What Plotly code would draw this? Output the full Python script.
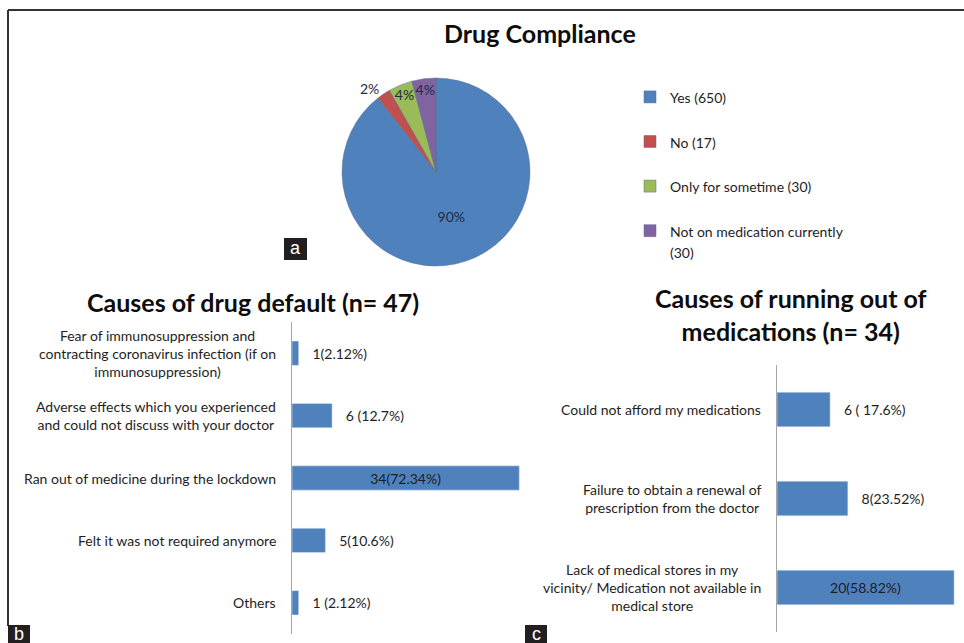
import plotly.graph_objects as go

W, H = 964, 643

# ---------------- data ----------------
# Panel a: Drug Compliance
pie_labels = ["Yes (650)", "No (17)", "Only for sometime (30)", "Not on medication currently<br>(30)"]
pie_counts = [650, 17, 30, 30]
pie_text = ["90%", "2%", "4%", "4%"]
pie_colors = ["#4F81BD", "#C0504D", "#9BBB59", "#8064A2"]

# Panel b: Causes of drug default (n= 47)
b_categories = [
    "Fear of immunosuppression and<br>contracting coronavirus infection (if on<br>immunosuppression)",
    "Adverse effects which you experienced<br>and could not discuss with your doctor",
    "Ran out of medicine during the lockdown",
    "Felt it was not required anymore",
    "Others",
]
b_counts = [1, 6, 34, 5, 1]
b_text = ["1(2.12%)", "6 (12.7%)", "34(72.34%)", "5(10.6%)", "1 (2.12%)"]

# Panel c: Causes of running out of medications (n= 34)
c_categories = [
    "Could not afford my medications",
    "Failure to obtain a renewal of<br>prescription from the doctor",
    "Lack of medical stores in my<br>vicinity/ Medication not available in<br>medical store",
]
c_counts = [6, 8, 20]
c_text = ["6 ( 17.6%)", "8(23.52%)", "20(58.82%)"]

# ---------------- helpers ----------------
FONT = "Lato"
TXT = "#1e1e1e"
BAR = "#4F81BD"
FS = 14


def X(px):
    return px / W


def Y(py):
    return 1 - py / H


def legend_label(s):
    parts = s.split("<br>")
    out = "<br>".join("<span style='font-size:14px'>%s</span>" % p for p in parts)
    if len(parts) == 1:
        out += "<br>\u00a0"
    return out


def bar_labels(texts, counts):
    mx = max(counts)
    pos, disp = [], []
    for t, c in zip(texts, counts):
        if c == mx:
            pos.append("inside")
            disp.append(t)
        else:
            pos.append("outside")
            disp.append("\u00a0\u00a0\u00a0" + t)
    return pos, disp


fig = go.Figure()

# Pie
fig.add_trace(go.Pie(
    labels=[legend_label(l) for l in pie_labels],
    values=pie_counts,
    text=pie_text,
    textinfo="text",
    textposition=["inside", "outside", "inside", "inside"],
    insidetextorientation="horizontal",
    textfont=dict(family=FONT, size=FS, color="#1f2a44"),
    marker=dict(colors=pie_colors, line=dict(color="#5a6f8f", width=0.5)),
    sort=False,
    direction="clockwise",
    rotation=0,
    domain=dict(x=[X(342), X(530)], y=[Y(266), Y(78)]),
    hoverinfo="skip",
))

# Bars b
b_pos, b_disp = bar_labels(b_text, b_counts)
fig.add_trace(go.Bar(
    y=b_categories, x=b_counts, orientation="h",
    text=b_disp, textposition=b_pos, insidetextanchor="middle",
    textfont=dict(family=FONT, size=FS, color=TXT),
    insidetextfont=dict(family=FONT, size=FS, color=TXT),
    outsidetextfont=dict(family=FONT, size=FS, color=TXT),
    marker=dict(color=BAR), cliponaxis=False, constraintext="none",
    xaxis="x", yaxis="y", showlegend=False, hoverinfo="skip",
))

# Bars c
c_pos, c_disp = bar_labels(c_text, c_counts)
fig.add_trace(go.Bar(
    y=c_categories, x=c_counts, orientation="h",
    text=c_disp, textposition=c_pos, insidetextanchor="middle",
    textfont=dict(family=FONT, size=FS, color=TXT),
    insidetextfont=dict(family=FONT, size=FS, color=TXT),
    outsidetextfont=dict(family=FONT, size=FS, color=TXT),
    marker=dict(color=BAR), cliponaxis=False, constraintext="none",
    xaxis="x2", yaxis="y2", showlegend=False, hoverinfo="skip",
))

annotations = []
# category labels
for cat in b_categories:
    annotations.append(dict(text=cat, xref="x domain", yref="y", x=0, y=cat,
                            xanchor="right", yanchor="middle", xshift=-14, align="center",
                            showarrow=False, font=dict(family=FONT, size=FS, color=TXT)))
for cat in c_categories:
    annotations.append(dict(text=cat, xref="x2 domain", yref="y2", x=0, y=cat,
                            xanchor="right", yanchor="middle", xshift=-14, align="center",
                            showarrow=False, font=dict(family=FONT, size=FS, color=TXT)))
# titles
TF = dict(family=FONT, size=25, color="#0d0d0d")
annotations.append(dict(text="<b>Drug Compliance</b>", xref="paper", yref="paper",
                        x=X(540), y=Y(33), xanchor="center", yanchor="middle", showarrow=False,
                        font=TF))
annotations.append(dict(text="<b>Causes of drug default (n= 47)</b>", xref="paper", yref="paper",
                        x=X(253), y=Y(302), xanchor="center", yanchor="middle", showarrow=False,
                        font=TF))
annotations.append(dict(text="<b>Causes of running out of<br>medications (n= 34)</b>", xref="paper",
                        yref="paper", x=X(791), y=Y(314), xanchor="center", yanchor="middle",
                        showarrow=False, font=TF))

shapes = [
    dict(type="line", xref="paper", yref="paper", x0=X(8), x1=1.0, y0=Y(10), y1=Y(10),
         line=dict(color="#333", width=2)),
    dict(type="line", xref="paper", yref="paper", x0=X(8), x1=X(8), y0=Y(10), y1=Y(626),
         line=dict(color="#333", width=2)),
]
# panel letters
for letter, (x0, y0, x1, y1) in [("a", (284, 238, 307, 260)), ("b", (8, 625, 30, 645)),
                                  ("c", (525, 625, 547, 645))]:
    shapes.append(dict(type="rect", xref="paper", yref="paper", x0=X(x0), x1=X(x1), y0=Y(y1), y1=Y(y0),
                       fillcolor="#231f20", line=dict(width=0)))
    annotations.append(dict(text=letter, xref="paper", yref="paper", x=X((x0 + x1) / 2),
                            y=Y((y0 + y1) / 2 - 1), xanchor="center", yanchor="middle", showarrow=False,
                            font=dict(family="Liberation Sans", size=18, color="white")))

axis_off = dict(visible=False, showgrid=False, zeroline=False)
yax = dict(showline=True, linecolor="#a6a6a6", linewidth=1, showticklabels=False, ticks="",
           showgrid=False, zeroline=False, autorange="reversed")

fig.update_layout(
    width=W, height=H,
    margin=dict(l=0, r=0, t=0, b=0),
    paper_bgcolor="white", plot_bgcolor="white",
    font=dict(family=FONT, color=TXT),
    bargap=0.61,
    xaxis=dict(domain=[X(292), X(526)], range=[0, 35], anchor="y", **axis_off),
    yaxis=dict(domain=[Y(634), Y(322)], anchor="x", **yax),
    xaxis2=dict(domain=[X(777), X(963)], range=[0, 21], anchor="y2", **axis_off),
    yaxis2=dict(domain=[Y(632), Y(365)], anchor="x2", **yax),
    legend=dict(x=X(630), y=Y(80), xanchor="left", yanchor="top", valign="top",
                font=dict(family=FONT, size=16, color=TXT), bgcolor="rgba(0,0,0,0)",
                traceorder="normal"),
    uniformtext=dict(minsize=12, mode="show"),
    annotations=annotations,
    shapes=shapes,
)

fig.write_html("out.html")
